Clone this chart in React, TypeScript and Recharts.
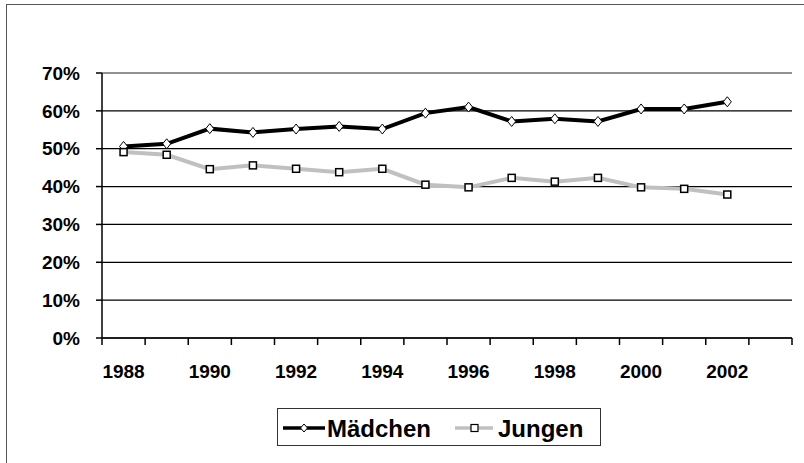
import React from "react";
import {
  CartesianGrid,
  Line,
  LineChart,
  ReferenceLine,
  XAxis,
  YAxis,
} from "recharts";

const years = [1988, 1989, 1990, 1991, 1992, 1993, 1994, 1995, 1996, 1997, 1998, 1999, 2000, 2001, 2002, 2003];
const maedchen = [50.6, 51.3, 55.3, 54.3, 55.2, 55.9, 55.2, 59.4, 61.0, 57.2, 57.9, 57.2, 60.5, 60.5, 62.4, null];
const jungen = [49.1, 48.4, 44.6, 45.6, 44.7, 43.8, 44.7, 40.5, 39.8, 42.3, 41.3, 42.3, 39.8, 39.4, 37.9, null];
const yTicks = [0, 10, 20, 30, 40, 50, 60, 70];

const data = years.map((year, i) => ({ year, maedchen: maedchen[i], jungen: jungen[i] }));

const W = 804;
const H = 463;
const LEFT = 102;
const RIGHT = 12;
const TOP = 73;
const XAXIS_H = 50;
const BOTTOM = H - 338 - XAXIS_H;
const BAND = (W - LEFT - RIGHT) / years.length;
const FONT = "'Liberation Sans', Arial, sans-serif";

function XTick(props: any) {
  const { x, y, payload, index } = props;
  const left = x - BAND / 2;
  const showLabel = payload.value % 2 === 0;
  return (
    <g>
      <line x1={left} x2={left} y1={y} y2={y + 7} stroke="#000" strokeWidth={1.5} />
      {index === years.length - 1 && (
        <line x1={x + BAND / 2} x2={x + BAND / 2} y1={y} y2={y + 7} stroke="#000" strokeWidth={1.5} />
      )}
      {showLabel && (
        <text x={x} y={y + 40} textAnchor="middle" fontFamily={FONT} fontWeight="bold" fontSize={19} fill="#000">
          {payload.value}
        </text>
      )}
    </g>
  );
}

function DiamondDot(props: any) {
  const { cx, cy, index } = props;
  if (cx == null || cy == null) return <g key={index} />;
  return (
    <path
      key={index}
      d={`M${cx},${cy - 5} L${cx + 4},${cy} L${cx},${cy + 5} L${cx - 4},${cy} Z`}
      fill="#fff"
      stroke="#000"
      strokeWidth={1}
    />
  );
}

function SquareDot(props: any) {
  const { cx, cy, index } = props;
  if (cx == null || cy == null) return <g key={index} />;
  return <rect key={index} x={cx - 3.5} y={cy - 3.5} width={7} height={7} fill="#fff" stroke="#000" strokeWidth={1.5} />;
}

function ChartLegend() {
  return (
    <div
      style={{
        position: "absolute",
        left: 277,
        top: 408,
        width: 324,
        height: 38,
        boxSizing: "border-box",
        border: "1.5px solid #333",
        background: "#fff",
      }}
    >
      <svg width={322} height={35} style={{ position: "absolute", left: 0, top: 0 }}>
        <line x1={5} x2={47} y1={19} y2={19} stroke="#000" strokeWidth={3.5} />
        <path d="M26,15 L29.5,19 L26,23 L22.5,19 Z" fill="#fff" stroke="#000" strokeWidth={1} />
        <text x={49} y={28} fontFamily={FONT} fontWeight="bold" fontSize={24} fill="#000">
          Mädchen
        </text>
        <line x1={177} x2={215} y1={19} y2={19} stroke="#c0c0c0" strokeWidth={3.5} />
        <rect x={193} y={15.5} width={7} height={7} fill="#fff" stroke="#000" strokeWidth={1.2} />
        <text x={220} y={28} fontFamily={FONT} fontWeight="bold" fontSize={24} fill="#000">
          Jungen
        </text>
      </svg>
    </div>
  );
}

export default function App() {
  return (
    <div style={{ position: "absolute", left: 0, top: 0, width: W, height: H, background: "#fff" }}>
      <div
        style={{
          position: "absolute",
          left: 6,
          top: 4,
          width: W - 6,
          height: H - 4,
          borderTop: "1.5px solid #555",
          borderLeft: "1.5px solid #555",
        }}
      />
      <LineChart width={W} height={H} data={data} margin={{ top: TOP, right: RIGHT, bottom: BOTTOM, left: 0 }}>
        <CartesianGrid vertical={false} stroke="#000" strokeWidth={1.2} />
        <XAxis
          dataKey="year"
          interval={0}
          height={XAXIS_H}
          padding={{ left: BAND / 2, right: BAND / 2 }}
          tickSize={0}
          tickMargin={0}
          tickLine={false}
          axisLine={{ stroke: "#000", strokeWidth: 1.5 }}
          tick={<XTick />}
        />
        <YAxis
          width={LEFT}
          domain={[0, 70]}
          ticks={yTicks}
          interval={0}
          tickFormatter={(v) => `${v}%`}
          tickSize={6}
          tickMargin={16}
          tickLine={{ stroke: "#000", strokeWidth: 1.5 }}
          axisLine={{ stroke: "#000", strokeWidth: 1.5 }}
          tick={{ fontFamily: FONT, fontWeight: "bold", fontSize: 19, fill: "#000" }}
        />
        <YAxis yAxisId="r" orientation="right" width={0} domain={[0, 70]} tick={false} tickLine={false} axisLine={{ stroke: "#999", strokeWidth: 1.5 }} />
        <ReferenceLine y={70} stroke="#999" strokeWidth={1.5} />
        <Line
          dataKey="maedchen"
          stroke="#000"
          strokeWidth={4}
          dot={(p: any) => <DiamondDot {...p} />}
          isAnimationActive={false}
        />
        <Line
          dataKey="jungen"
          stroke="#c0c0c0"
          strokeWidth={4}
          dot={(p: any) => <SquareDot {...p} />}
          isAnimationActive={false}
        />
      </LineChart>
      <ChartLegend />
    </div>
  );
}
